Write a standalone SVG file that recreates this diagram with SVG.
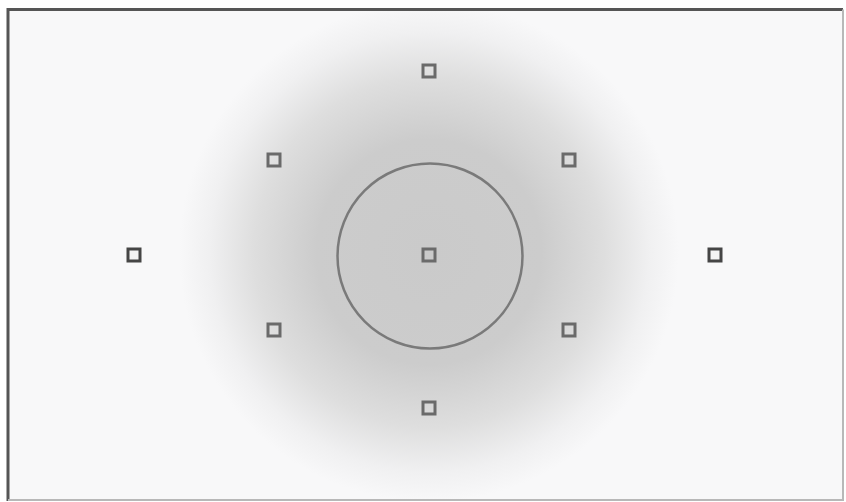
<svg xmlns="http://www.w3.org/2000/svg" width="846" height="502" viewBox="0 0 846 502">
<defs>
<radialGradient id="g" cx="429" cy="252" r="250" gradientUnits="userSpaceOnUse" gradientTransform="translate(429 252) scale(1 1) translate(-429 -252)">
<stop offset="0" stop-color="#cacaca"/>
<stop offset="0.45" stop-color="#cccccc"/>
<stop offset="0.7" stop-color="#dedede"/>
<stop offset="0.88" stop-color="#f0f0f1"/>
<stop offset="1" stop-color="#f8f8f9"/>
</radialGradient>
<style>
.sq{fill:none;stroke:#6a6a6a;stroke-width:3}
.sqd{fill:#f4f4f4;stroke:#454545;stroke-width:3}
</style>
</defs>
<rect x="0" y="0" width="846" height="502" fill="#ffffff"/>
<rect x="8" y="9.5" width="835" height="490" fill="#f8f8f9"/>
<rect x="8" y="9.5" width="835" height="490" fill="url(#g)"/>
<path d="M8 501 V9.5 H843" fill="none" stroke="#555" stroke-width="3"/>
<path d="M843 9.5 V500 H8" fill="none" stroke="#b8b8b8" stroke-width="2"/>
<g id="ring"><circle cx="430" cy="256" r="92.5" fill="none" stroke="#7a7a7a" stroke-width="2.5"/></g>
<g id="center"><rect class="sq" x="423" y="249" width="12" height="12"/></g>
<g id="top"><rect class="sq" x="423" y="65" width="12" height="12"/></g>
<g id="bottom"><rect class="sq" x="423" y="402" width="12" height="12"/></g>
<g id="tl"><rect class="sq" x="268" y="154" width="12" height="12"/></g>
<g id="tr"><rect class="sq" x="563" y="154" width="12" height="12"/></g>
<g id="bl"><rect class="sq" x="268" y="324" width="12" height="12"/></g>
<g id="br"><rect class="sq" x="563" y="324" width="12" height="12"/></g>
<g id="left"><rect class="sqd" x="128" y="249" width="12" height="12"/></g>
<g id="right"><rect class="sqd" x="709" y="249" width="12" height="12"/></g>
</svg>
